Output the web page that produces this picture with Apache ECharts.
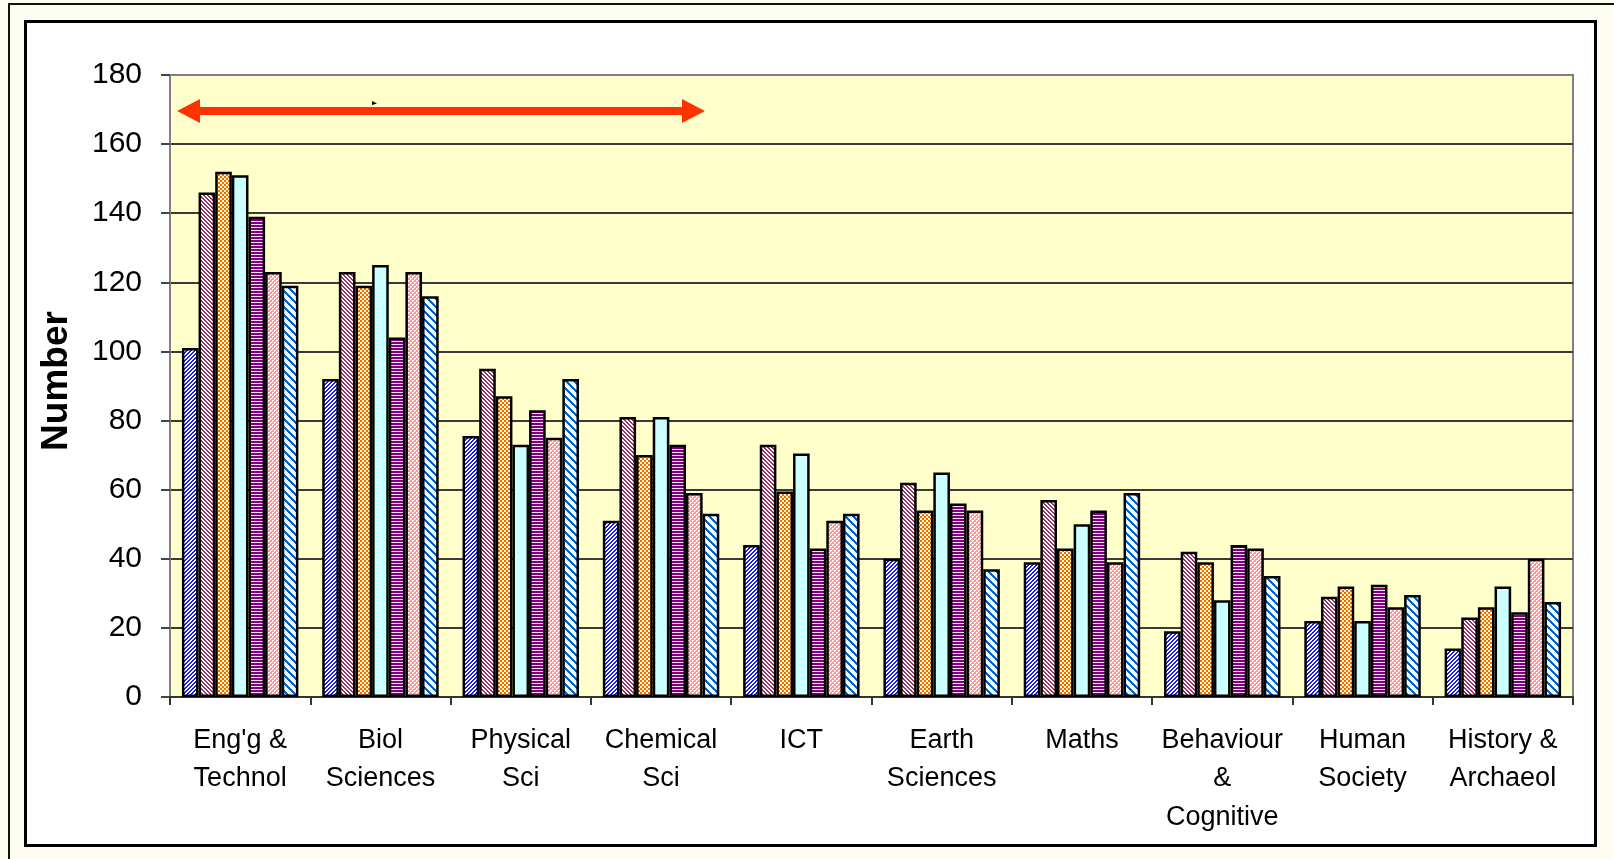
<!DOCTYPE html>
<html>
<head>
<meta charset="utf-8">
<script src="https://cdn.jsdelivr.net/npm/echarts@6/dist/echarts.min.js"></script>
<style>
  html, body { margin: 0; padding: 0; width: 1614px; height: 859px; overflow: hidden; background: #fdfdf1; }
  #outer { position: absolute; left: 8px; top: 3px; width: 1700px; height: 1000px; border: 2px solid #111; box-sizing: border-box; }
  #inner { position: absolute; left: 24px; top: 20px; width: 1573px; height: 827px; border: 3px solid #000; background: #ffffff; box-sizing: border-box; }
  #chart { position: absolute; left: 0; top: 0; width: 1614px; height: 859px; }
</style>
</head>
<body>
<div id="outer"></div>
<div id="inner"></div>
<div id="chart"></div>
<script>
// ---- data ----
const categories = ["Eng'g &\nTechnol", "Biol\nSciences", "Physical\nSci", "Chemical\nSci", "ICT",
                    "Earth\nSciences", "Maths", "Behaviour\n&\nCognitive", "Human\nSociety", "History &\nArchaeol"];
const seriesNames = ["Series 1", "Series 2", "Series 3", "Series 4", "Series 5", "Series 6", "Series 7"];
const s1 = [101, 92, 75.5, 51, 44, 40, 39, 19, 22, 14];
const s2 = [146, 123, 95, 81, 73, 62, 57, 42, 29, 23];
const s3 = [152, 119, 87, 70, 59.5, 54, 43, 39, 32, 26];
const s4 = [151, 125, 73, 81, 70.5, 65, 50, 28, 22, 32];
const s5 = [139, 104, 83, 73, 43, 56, 54, 44, 32.5, 24.5];
const s6 = [123, 123, 75, 59, 51, 54, 39, 43, 26, 40];
const s7 = [119, 116, 92, 53, 53, 37, 59, 35, 29.5, 27.5];
const seriesValues = [s1, s2, s3, s4, s5, s6, s7];
const yTicks = { min: 0, max: 180, interval: 20 };

// ---- patterns ----
function makePattern(w, h, bg, fg, fn) {
  const c = document.createElement('canvas');
  c.width = w; c.height = h;
  const ctx = c.getContext('2d');
  ctx.fillStyle = bg; ctx.fillRect(0, 0, w, h);
  ctx.fillStyle = fg;
  for (let y = 0; y < h; y++) for (let x = 0; x < w; x++) if (fn(x, y)) ctx.fillRect(x, y, 1, 1);
  return { image: c, repeat: 'repeat' };
}
const mod = (a, n) => ((a % n) + n) % n;
const fills = [
  makePattern(4, 4, '#ffffff', '#1a1aff', (x, y) => mod(x + y, 4) < 2),
  makePattern(4, 4, '#ffffff', '#993366', (x, y) => mod(x - y, 4) < 2),
  makePattern(4, 4, '#ffffcc', '#ff6600', (x, y) => (Math.floor(x / 2) + Math.floor(y / 2)) % 2 === 0),
  '#ccffff',
  makePattern(3, 3, '#f2e6f2', '#800080', (x, y) => y < 2),
  makePattern(4, 4, '#ffffff', '#ff9999', (x, y) => !((x === 0 && y === 0) || (x === 2 && y === 2) || (x === 1 && y === 0) || (x === 0 && y === 1) || (x === 3 && y === 2) || (x === 2 && y === 3))),
  makePattern(8, 8, '#ffffff', '#0066cc', (x, y) => mod(x - y, 8) < 3)
];

const chart = echarts.init(document.getElementById('chart'), null, { renderer: 'canvas' });
const font = 'Liberation Sans, Arial, sans-serif';

const option = {
  backgroundColor: 'transparent',
  animation: false,
  grid: {
    left: 170, top: 75, right: 41, bottom: 162,
    show: true, backgroundColor: '#ffffcc', borderColor: '#808080', borderWidth: 2
  },
  xAxis: {
    type: 'category',
    data: categories,
    axisLine: { lineStyle: { color: '#333333', width: 2 } },
    axisTick: { show: true, length: 8, lineStyle: { color: '#333333', width: 2 } },
    axisLabel: { interval: 0, color: '#000', fontFamily: font, fontSize: 27, lineHeight: 38.5, margin: 24 }
  },
  yAxis: {
    type: 'value',
    min: yTicks.min, max: yTicks.max, interval: yTicks.interval,
    name: 'Number', nameLocation: 'middle', nameRotate: 90, nameGap: 95,
    nameTextStyle: { color: '#000', fontFamily: font, fontSize: 37, fontWeight: 'bold', padding: [0, 0, 0, 10] },
    axisLine: { show: true, lineStyle: { color: '#808080', width: 2 } },
    axisTick: { show: true, length: 9, lineStyle: { color: '#444', width: 2 } },
    axisLabel: { color: '#000', fontFamily: font, fontSize: 30, margin: 28 },
    splitLine: { show: true, showMinLine: false, showMaxLine: false, lineStyle: { color: '#3a3a3a', width: 2 } }
  },
  series: seriesValues.map((vals, i) => ({
    name: seriesNames[i],
    type: 'bar',
    data: vals,
    barGap: '0%',
    barCategoryGap: '17%',
    itemStyle: { color: fills[i], borderColor: '#000', borderWidth: 2.5 }
  })),
  graphic: [
    {
      type: 'polygon', z: 100,
      shape: { points: [[177, 111], [200, 99], [200, 107], [682, 107], [682, 99], [705, 111], [682, 123], [682, 115], [200, 115], [200, 123]] },
      style: { fill: '#ff3300' }
    },
    {
      type: 'polygon', z: 100,
      shape: { points: [[372, 101], [377, 103.5], [372, 105]] },
      style: { fill: '#000' }
    }
  ]
};
chart.setOption(option);
</script>
</body>
</html>
